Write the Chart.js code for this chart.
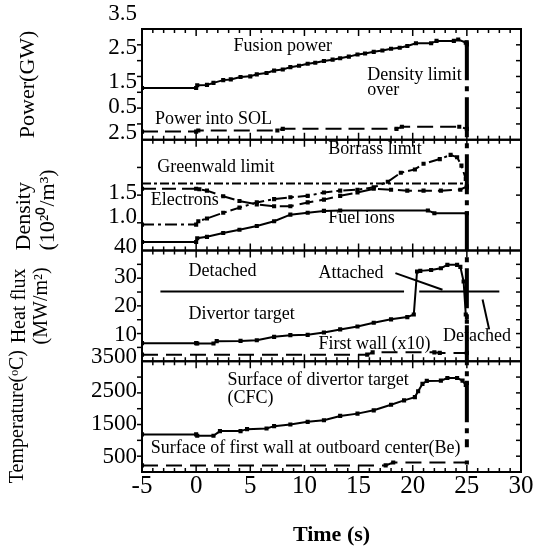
<!DOCTYPE html>
<html>
<head>
<meta charset="utf-8">
<script src="https://cdn.jsdelivr.net/npm/chart.js@4"></script>
<style>
  body { margin: 0; background: #fff; }
</style>
</head>
<body>
<canvas id="chart" width="536" height="550"></canvas>
<script>
"use strict"

// Tid (s) och värden
const fusionPower = [[-5,1.32],[0,1.32],[0.1,1.40],[1,1.41],[1.6,1.47],[2.5,1.55],[3.2,1.57],[4.1,1.64],[5,1.66],[5.6,1.72],[6.5,1.76],[7.2,1.83],[8,1.86],[8.7,1.93],[9.5,1.97],[10.3,2.03],[11,2.06],[11.8,2.11],[12.6,2.15],[13.3,2.19],[14.1,2.24],[14.9,2.30],[15.6,2.33],[16.4,2.38],[17.2,2.42],[18,2.47],[18.8,2.50],[19.5,2.55],[20.3,2.63],[21.7,2.63],[22.2,2.70],[23.8,2.70],[24.2,2.74],[24.9,2.65],[25,2.60]];
const powerSOL = [[-5,0.04],[0,0.04],[0.2,0.07],[7.5,0.07],[8,0.12],[18.5,0.12],[19,0.18],[24.3,0.18],[25,0.12]];

const greenwald = [[-5,1.70],[25,1.70]];
const borrass = [[-5,0.83],[0,0.83],[0.2,0.90],[1,0.96],[2.5,1.08],[4,1.19],[5.6,1.30],[7.2,1.37],[8.7,1.41],[10.3,1.44],[11.8,1.51],[13.3,1.55],[14.9,1.57],[16.4,1.62],[17.7,1.74],[18.9,1.93],[20.2,2.00],[21,2.12],[22.5,2.22],[23.5,2.31],[24.1,2.26],[24.5,2.08],[24.9,1.80],[25,1.62]];
const electrons = [[-5,1.59],[0,1.59],[0.3,1.58],[1,1.55],[2.5,1.43],[4,1.33],[5.6,1.26],[7.2,1.22],[8.7,1.22],[10.3,1.30],[11.8,1.36],[13.3,1.44],[14.9,1.51],[16.4,1.59],[18,1.57],[19.5,1.55],[21,1.55],[22.6,1.55],[24.4,1.57],[25,1.64]];
const fuelIons = [[-5,0.46],[0,0.46],[0.1,0.54],[1,0.57],[2.5,0.65],[4,0.72],[5.6,0.80],[7.2,0.90],[8.7,1.04],[10.3,1.08],[11.8,1.12],[13.3,1.13],[21.4,1.13],[22,1.07],[25,1.07]];

const detachLimit = [[-3.3,25],[19.2,25],[19.9,null],[20.6,25],[28,25]];
const divertorFlux = [[-5,7.0],[0,7.0],[0.1,6.9],[1.6,6.9],[1.9,7.7],[4.1,7.8],[5.6,8.0],[7.2,9.2],[8.7,9.8],[10.3,9.9],[11.8,10.7],[13.3,11.8],[14.9,12.8],[16.4,14.1],[18,15.3],[19.5,16.1],[20.1,17.0],[20.4,32.0],[20.7,32.2],[21.7,32.5],[22.6,33.1],[23.2,34.3],[24.1,34.3],[24.4,33.6],[24.7,28.5],[24.9,17.0],[25,14.5]];
const firstWallFlux = [[-5,3.0],[15.8,3.0],[16.3,3.8],[22,3.8],[22.5,3.6],[25,3.6]];
const attachedPointer = [[18.4,31.4],[22.75,25.6]];
const detachedPointer = [[26.45,22.2],[27.06,11.8]];

const divertorTemp = [[-5,1187],[0,1187],[0.1,1147],[1.6,1147],[2.2,1286],[4.1,1286],[4.7,1345],[6.5,1365],[7.2,1434],[8.7,1484],[10.3,1563],[11.8,1612],[13.3,1741],[14.9,1810],[16.4,1909],[18,2077],[19.2,2206],[20.2,2305],[20.5,2480],[20.9,2700],[21.3,2790],[22.6,2799],[23.2,2878],[24.1,2878],[24.6,2800],[24.9,2671],[25,2730]];
const firstWallTemp = [[-5,257],[17.5,257],[18.2,346],[25,346]];

// Densitetsgräns vid 25 s
const limitTime = 25;

// Tick-etiketter (som i originalet)
const powerTicks = [3.5, 2.5, 1.5, 0.75, 0];
const powerLabels = ['3.5', '2.5', '1.5', '0.5', '2.5'];
const densityTicks = [1.5, 1.0, 0.35];
const densityLabels = ['1.5', '1.0', '40'];
const heatTicks = [30, 20, 10];
const heatLabels = ['30', '20', '10'];
const tempTicks = [3500, 2500, 1500, 500];
const tempLabels = ['3500', '2500', '1500', '500'];

// Texter i diagrammet
const notes = [
    {text: 'Fusion power', axis: 'yPower', x: 3.45, y: 2.53},
    {text: 'Density limit', axis: 'yPower', x: 15.8, y: 1.68},
    {text: 'over', axis: 'yPower', x: 15.8, y: 1.26},
    {text: 'Power into SOL', axis: 'yPower', x: -3.8, y: 0.41},
    {text: 'Borrass limit', axis: 'yDensity', x: 12.2, y: 2.43},
    {text: 'Greenwald limit', axis: 'yDensity', x: -3.6, y: 2.04},
    {text: 'Electrons', axis: 'yDensity', x: -4.2, y: 1.35},
    {text: 'Fuel ions', axis: 'yDensity', x: 12.2, y: 0.96},
    {text: 'Detached', axis: 'yHeat', x: -0.7, y: 32.1},
    {text: 'Attached', axis: 'yHeat', x: 11.3, y: 31.4},
    {text: 'Divertor target', axis: 'yHeat', x: -0.7, y: 17.2},
    {text: 'First wall (x10)', axis: 'yHeat', x: 11.3, y: 6.55},
    {text: 'Detached', axis: 'yHeat', x: 22.8, y: 9.3},
    {text: 'Surface of divertor target', axis: 'yTemp', x: 2.9, y: 2819},
    {text: '(CFC)', axis: 'yTemp', x: 2.9, y: 2285},
    {text: 'Surface of first wall at outboard center(Be)', axis: 'yTemp', x: -4.2, y: 772}
];

const panelIds = ['yPower', 'yDensity', 'yHeat', 'yTemp'];
const yDivisions = [7, 4, 8, 7];

Chart.defaults.font.family = 'Liberation Serif';
Chart.defaults.color = '#000';

function toPoints(arr) {
    return arr.map((p) => ({x: p[0], y: p[1]}));
}

function series(data, axis, dash, markers) {
    return {
        data: toPoints(data),
        yAxisID: axis,
        borderColor: '#000',
        backgroundColor: '#000',
        borderWidth: 2,
        borderDash: dash,
        pointStyle: 'rect',
        pointRadius: markers ? 1.5 : 0,
        tension: 0,
        spanGaps: false
    };
}

function panelAxis(min, max, values, labels, title, size, pad, align) {
    return {
        type: 'linear',
        position: 'left',
        stack: 'panels',
        stackWeight: 1,
        min: min,
        max: max,
        bounds: 'data',
        grid: { display: false, drawTicks: false },
        border: { display: false },
        afterBuildTicks: (scale) => { scale.ticks = values.map((v) => ({value: v})); },
        afterFit: (scale) => { scale.width = 142; },
        ticks: {
            autoSkip: false,
            padding: 5,
            font: { size: 23 },
            callback: (v, i) => labels[i]
        },
        title: {
            display: true,
            text: title,
            align: align,
            font: { size: size, lineHeight: 1.1 },
            padding: { top: pad, bottom: 0 }
        }
    };
}

function line(ctx, x1, y1, x2, y2) {
    ctx.beginPath();
    ctx.moveTo(x1, y1);
    ctx.lineTo(x2, y2);
    ctx.stroke();
}

// Ramar och tickmarkeringar för varje panel
const panelFrames = {
    id: 'panelFrames',
    afterDatasetsDraw(chart) {
        const ctx = chart.ctx;
        const x = chart.scales.x;
        ctx.save();
        ctx.strokeStyle = '#000';
        panelIds.forEach((id, k) => {
            const s = chart.scales[id];
            ctx.lineWidth = 2;
            ctx.strokeRect(x.left, s.top, x.right - x.left, s.bottom - s.top);
            ctx.lineWidth = 1.5;
            for (let t = x.min; t <= x.max; t++) {
                const px = x.getPixelForValue(t);
                const len = t % 5 === 0 ? 7 : 4;
                line(ctx, px, s.top, px, s.top + len);
                line(ctx, px, s.bottom, px, s.bottom - len);
            }
            const n = yDivisions[k];
            for (let i = 1; i < n; i++) {
                const py = s.top + (s.bottom - s.top) * i / n;
                line(ctx, x.left - 5, py, x.left, py);
                line(ctx, x.right - 5, py, x.right, py);
            }
        });
        ctx.restore();
    }
};

// Streckprickad linje vid densitetsgränsen
const limitLine = {
    id: 'limitLine',
    afterDatasetsDraw(chart) {
        const {ctx, scales} = chart;
        const px = scales.x.getPixelForValue(limitTime);
        ctx.save();
        ctx.strokeStyle = '#000';
        ctx.lineWidth = 4;
        ctx.setLineDash([40, 6, 5, 6]);
        line(ctx, px, scales.yPower.getPixelForValue(2.72), px, scales.yTemp.getPixelForValue(800));
        ctx.restore();
    }
};

// Texter
const noteText = {
    id: 'noteText',
    afterDatasetsDraw(chart) {
        const {ctx, scales} = chart;
        ctx.save();
        ctx.font = '18px "Liberation Serif"';
        ctx.fillStyle = '#000';
        ctx.textAlign = 'left';
        ctx.textBaseline = 'middle';
        notes.forEach((n) => {
            ctx.fillText(n.text, scales.x.getPixelForValue(n.x), scales[n.axis].getPixelForValue(n.y));
        });
        ctx.restore();
    }
};

new Chart(document.getElementById('chart'), {
    type: 'line',
    data: {
        datasets: [
            series(fusionPower, 'yPower', [], true),
            series(powerSOL, 'yPower', [16, 7], true),
            series(greenwald, 'yDensity', [9, 3, 3, 3], false),
            series(borrass, 'yDensity', [12, 4, 3, 4], true),
            series(electrons, 'yDensity', [14, 6], true),
            series(fuelIons, 'yDensity', [], true),
            series(detachLimit, 'yHeat', [], false),
            series(divertorFlux, 'yHeat', [], true),
            series(firstWallFlux, 'yHeat', [16, 8], true),
            series(attachedPointer, 'yHeat', [], false),
            series(detachedPointer, 'yHeat', [], false),
            series(divertorTemp, 'yTemp', [], true),
            series(firstWallTemp, 'yTemp', [16, 8], true)
        ]
    },
    options: {
        responsive: false,
        animation: false,
        layout: { padding: { top: 29, right: 15, left: 0, bottom: 0 } },
        plugins: { legend: { display: false }, tooltip: { enabled: false } },
        scales: {
            x: {
                type: 'linear',
                position: 'bottom',
                min: -5,
                max: 30,
                grid: { display: false, drawTicks: false },
                border: { display: false },
                afterFit: (scale) => { scale.height = 78; },
                ticks: { stepSize: 5, padding: -1, font: { size: 25 } },
                title: {
                    display: true,
                    text: 'Time (s)',
                    font: { size: 22, weight: 'bold' },
                    padding: { top: 0, bottom: 1 }
                }
            },
            yTemp: panelAxis(60, 3380, tempTicks, tempLabels, 'Temperature(ᵒC)', 20, 7, 'center'),
            yHeat: panelAxis(0.7, 39.3, heatTicks, heatLabels, ['Heat flux', '(MW/m²)'], 20, 9, 'center'),
            yDensity: panelAxis(0.28, 2.63, densityTicks, densityLabels, ['Density', '(10²⁰/m³)'], 22, 12, 'start'),
            yPower: panelAxis(-0.2, 3.05, powerTicks, powerLabels, 'Power(GW)', 22, 16, 'center')
        }
    },
    plugins: [panelFrames, limitLine, noteText]
});
</script>
</body>
</html>
